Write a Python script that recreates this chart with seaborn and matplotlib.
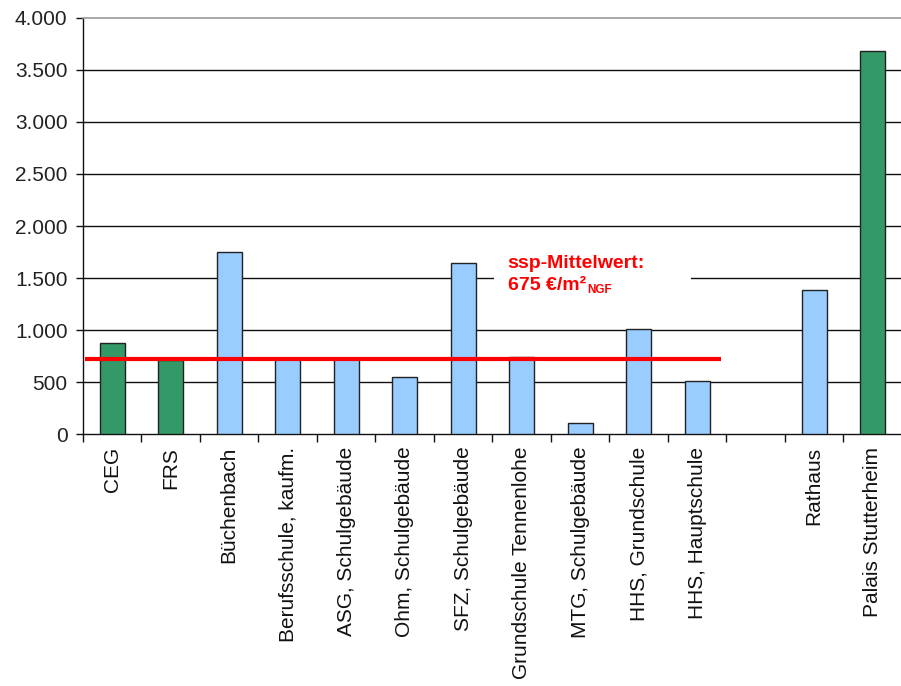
import matplotlib
matplotlib.use("Agg")
import matplotlib.pyplot as plt
import matplotlib.ticker as mticker
from matplotlib.patches import Rectangle
import seaborn as sns
import pandas as pd

categories = ["CEG", "FRS", "Büchenbach", "Berufsschule, kaufm.", "ASG, Schulgebäude",
              "Ohm, Schulgebäude", "SFZ, Schulgebäude", "Grundschule Tennenlohe",
              "MTG, Schulgebäude", "HHS, Grundschule", "HHS, Hauptschule",
              "Rathaus", "Palais Stutterheim"]
values = [880, 715, 1755, 725, 725, 550, 1648, 742, 110, 1012, 515, 1390, 3680]
groups = ["grün", "grün", "blau", "blau", "blau", "blau", "blau", "blau", "blau",
          "blau", "blau", "blau", "grün"]
order = categories[:11] + [" "] + categories[11:]
mean_value = 721
mean_line1 = "ssp-Mittelwert:"
mean_line2 = "675 €/m²"
mean_sub = "NGF"
y_ticks = [0, 500, 1000, 1500, 2000, 2500, 3000, 3500, 4000]

palette = {"grün": "#339966", "blau": "#99CCFF"}

sns.set_style("white")
plt.rcParams["font.family"] = ["Liberation Sans", "DejaVu Sans"]

fig = plt.figure(figsize=(9.01, 6.86), dpi=100)
ax = fig.add_axes([0.092, 0.367, 0.909, 0.607])

df = pd.DataFrame({"Objekt": categories, "Wert": values, "Gruppe": groups})
sns.barplot(data=df, x="Objekt", y="Wert", hue="Gruppe", order=order,
            palette=palette, dodge=False, width=0.43, legend=False, saturation=1,
            edgecolor="#222222", linewidth=1.0, ax=ax, zorder=3)

ax.set_xlim(-0.5, len(order) - 0.5)
ax.set_ylim(0, 4000)
ax.set_yticks(y_ticks)
ax.yaxis.set_major_formatter(mticker.FuncFormatter(lambda v, p: f"{int(v):,}".replace(",", ".")))
for y in y_ticks[1:-1]:
    ax.axhline(y, color="#111111", lw=1.0, zorder=1)

ax.spines["right"].set_visible(False)
ax.spines["top"].set_color("#999999")
ax.spines["top"].set_linewidth(1.2)
for s in ["left", "bottom"]:
    ax.spines[s].set_color("#111111")
    ax.spines[s].set_linewidth(1.0)

ax.tick_params(axis="y", which="major", direction="out", length=5, width=1,
               color="#111111", labelsize=15, labelcolor="#222222", pad=6, left=True)
ax.set_xticks(range(len(order)))
ax.set_xticklabels(order, rotation=90, fontsize=15, color="#111111", va="top")
ax.tick_params(axis="x", which="major", length=0, pad=9)
ax.set_xticks([i - 0.5 for i in range(len(order) + 1)], minor=True)
ax.tick_params(axis="x", which="minor", direction="out", length=6, width=1, color="#111111", bottom=True)
ax.set_xlabel("")
ax.set_ylabel("")

# mean line
ax.plot([-0.47, 10.4], [mean_value, mean_value], color="#FF0000", lw=3, zorder=5,
        solid_capstyle="butt")

# annotation box and text
ax.add_patch(Rectangle((6.52, 1290), 3.37, 530, facecolor="white", edgecolor="none", zorder=2))
ax.text(6.76, 1644, mean_line1, color="#FF0000", fontsize=14, fontweight="bold",
        ha="left", va="center", zorder=6)
t2 = ax.text(6.76, 1425, mean_line2, color="#FF0000", fontsize=14, fontweight="bold",
             ha="left", va="center", zorder=6)
ax.annotate(mean_sub, xy=(1.0, 0.0), xycoords=t2, xytext=(1, -1), textcoords="offset points",
            color="#FF0000", fontsize=8.5, fontweight="bold", ha="left", va="bottom", zorder=6)

fig.savefig("out.png", dpi=100)
